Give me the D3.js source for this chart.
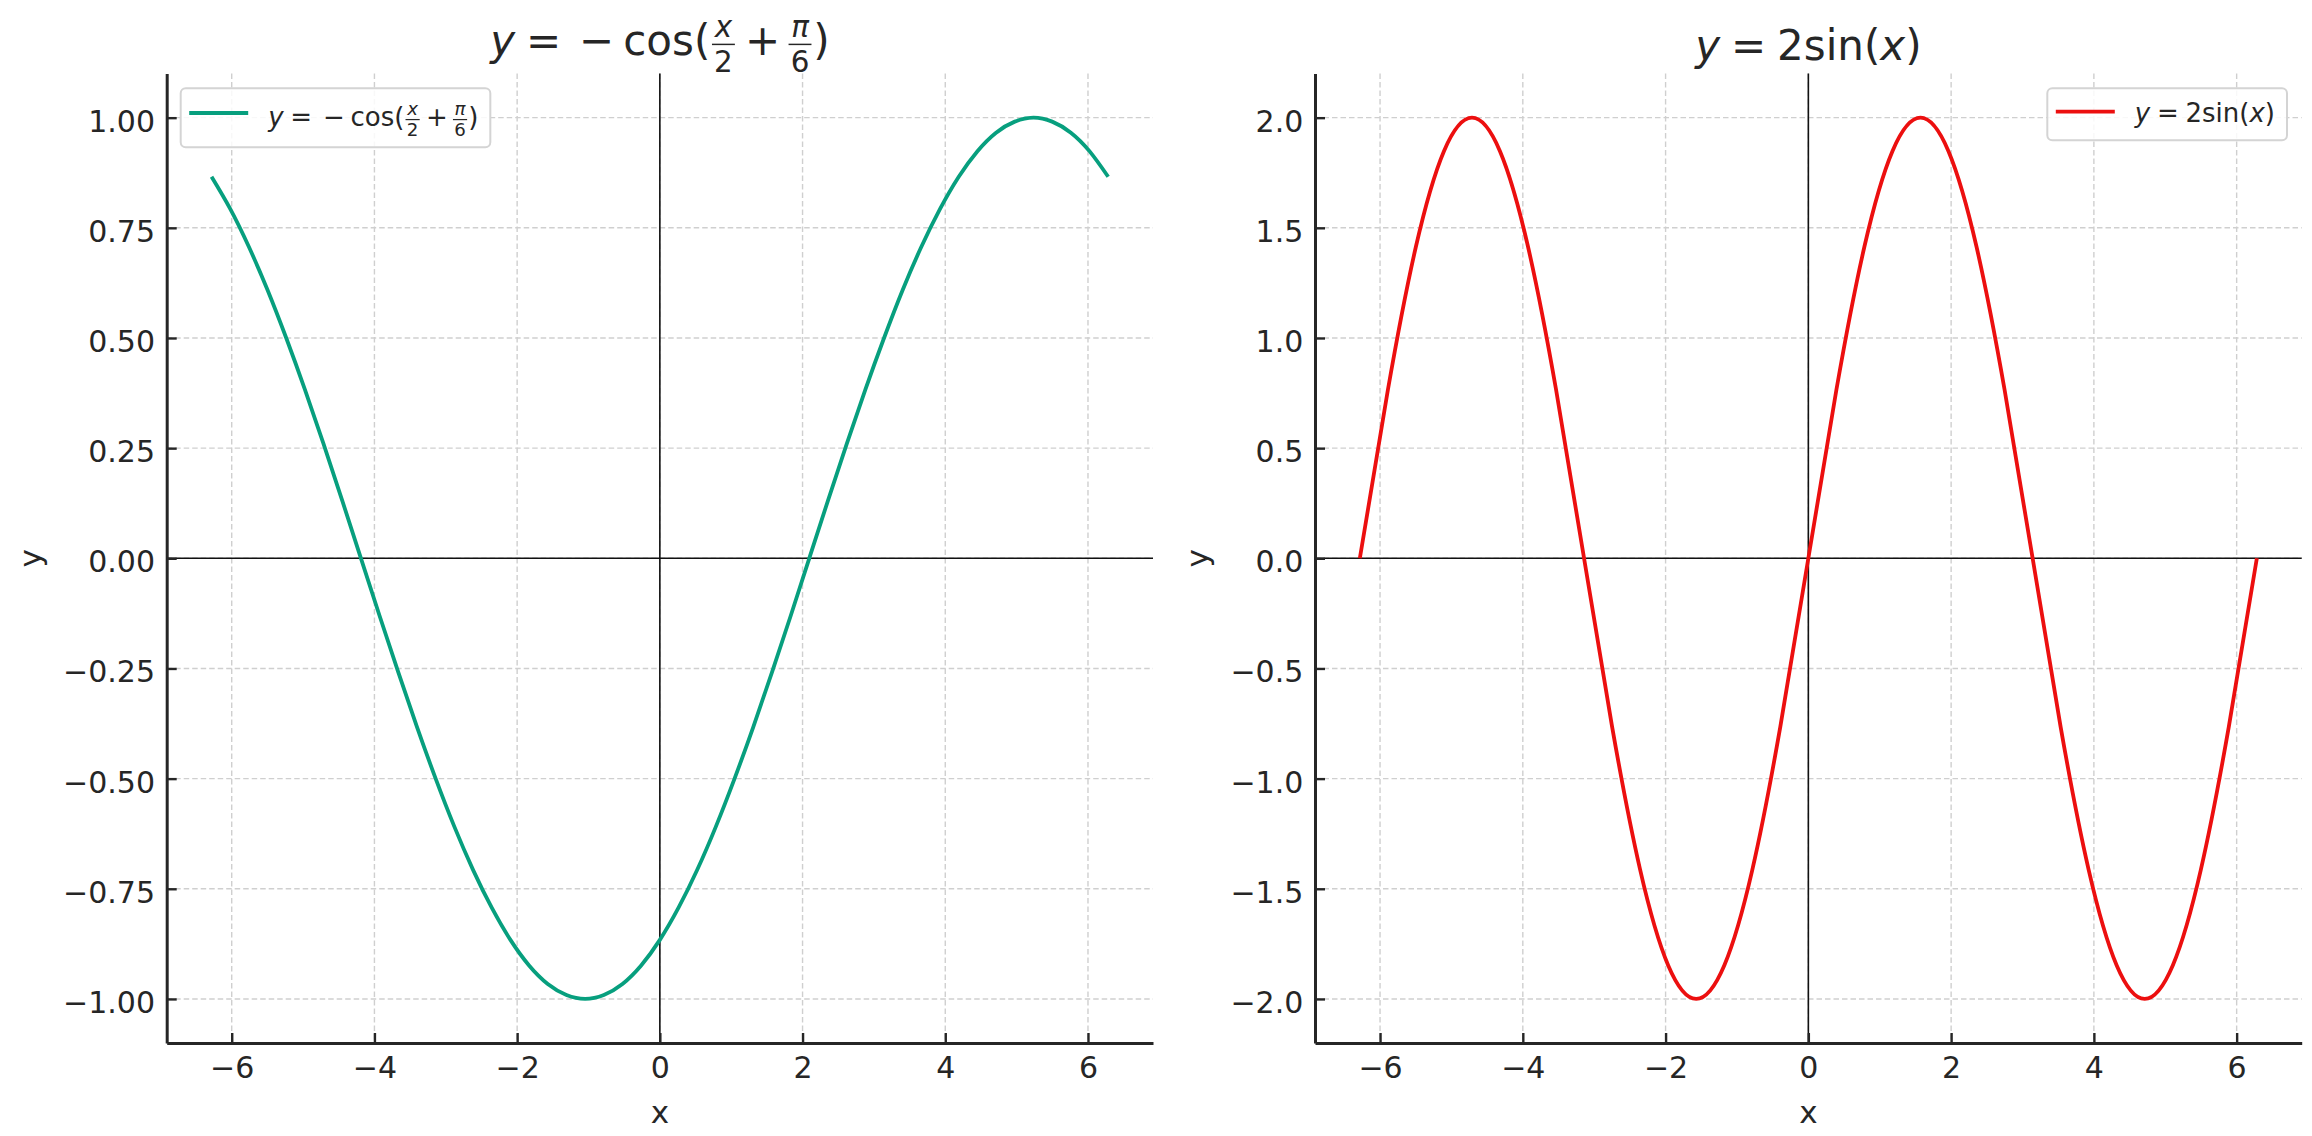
<!DOCTYPE html>
<html>
<head>
<meta charset="utf-8">
<script src="https://cdn.jsdelivr.net/npm/d3@7"></script>
<style>
  html, body { margin: 0; padding: 0; background: #fff; }
  svg { display: block; font-family: "DejaVu Sans", sans-serif; }
</style>
</head>
<body>
<svg id="chart" width="2312" height="1136"></svg>
<script>
// ---------------- DATA ----------------
const xTicks = [-6, -4, -2, 0, 2, 4, 6];

// left panel: y = -cos(x/2 + pi/6)
const leftX = [-6.283, -6.021, -5.760, -5.498, -5.236, -4.974, -4.712, -4.451, -4.189, -3.927, -3.665, -3.403,
               -3.142, -2.880, -2.618, -2.356, -2.094, -1.833, -1.571, -1.309, -1.047, -0.785, -0.524, -0.262,
               0.0, 0.262, 0.524, 0.785, 1.047, 1.309, 1.571, 1.833, 2.094, 2.356, 2.618, 2.880,
               3.142, 3.403, 3.665, 3.927, 4.189, 4.451, 4.712, 4.974, 5.236, 5.498, 5.760, 6.021, 6.283];
const leftY = [0.866, 0.793, 0.707, 0.609, 0.5, 0.383, 0.259, 0.131, 0.0, -0.131, -0.259, -0.383,
               -0.5, -0.609, -0.707, -0.793, -0.866, -0.924, -0.966, -0.991, -1.0, -0.991, -0.966, -0.924,
               -0.866, -0.793, -0.707, -0.609, -0.5, -0.383, -0.259, -0.131, 0.0, 0.131, 0.259, 0.383,
               0.5, 0.609, 0.707, 0.793, 0.866, 0.924, 0.966, 0.991, 1.0, 0.991, 0.966, 0.924, 0.866];
const leftYTicks = [-1.0, -0.75, -0.5, -0.25, 0.0, 0.25, 0.5, 0.75, 1.0];

// right panel: y = 2 sin(x)
const rightX = [-6.283, -5.890, -5.498, -5.105, -4.712, -4.320, -3.927, -3.534, -3.142, -2.749, -2.356,
                -1.963, -1.571, -1.178, -0.785, -0.393, 0.0, 0.393, 0.785, 1.178, 1.571, 1.963, 2.356,
                2.749, 3.142, 3.534, 3.927, 4.320, 4.712, 5.105, 5.498, 5.890, 6.283];
const rightY = [0.0, 0.765, 1.414, 1.848, 2.0, 1.848, 1.414, 0.765, 0.0, -0.765, -1.414,
                -1.848, -2.0, -1.848, -1.414, -0.765, 0.0, 0.765, 1.414, 1.848, 2.0, 1.848, 1.414,
                0.765, 0.0, -0.765, -1.414, -1.848, -2.0, -1.848, -1.414, -0.765, 0.0];
const rightYTicks = [-2.0, -1.5, -1.0, -0.5, 0.0, 0.5, 1.0, 1.5, 2.0];

// math text pieces
const leftLabel = [{s: "y", it: true}, {gap: 0.26}, {s: "="}, {gap: 0.42}, {s: "\u2212"}, {gap: 0.22},
  {s: "cos("}, {gap: 0.04}, {frac: [{s: "x", it: true}, {s: "2"}]}, {gap: 0.24}, {s: "+"}, {gap: 0.2},
  {frac: [{s: "\u03c0", it: true}, {s: "6"}]}, {gap: 0.04}, {s: ")"}];
const rightLabel = [{s: "y", it: true}, {gap: 0.26}, {s: "="}, {gap: 0.26}, {s: "2sin("}, {s: "x", it: true}, {s: ")"}];

// ---------------- DRAWING ----------------
const svg = d3.select("#chart");
const TXT = "#262626";

function drawMath(parent, tokens, x, y, size, anchor) {
  const g = parent.append("g").attr("fill", TXT);
  let cx = 0;
  tokens.forEach(tok => {
    if (tok.gap !== undefined) { cx += tok.gap * size; return; }
    if (tok.frac) {
      const fs = size * 0.7;
      const num = g.append("text").attr("font-size", fs).attr("font-style", tok.frac[0].it ? "italic" : "normal")
        .attr("text-anchor", "middle").text(tok.frac[0].s);
      const den = g.append("text").attr("font-size", fs).attr("font-style", tok.frac[1].it ? "italic" : "normal")
        .attr("text-anchor", "middle").text(tok.frac[1].s);
      const w = Math.max(num.node().getComputedTextLength(), den.node().getComputedTextLength()) + 0.1 * size;
      num.attr("x", cx + w / 2).attr("y", -0.43 * size);
      den.attr("x", cx + w / 2).attr("y", 0.40 * size);
      g.append("rect").attr("x", cx).attr("y", -0.27 * size).attr("width", w).attr("height", Math.max(1.2, 0.035 * size));
      cx += w;
      return;
    }
    const t = g.append("text").attr("x", cx).attr("y", 0).attr("font-size", size)
      .attr("font-style", tok.it ? "italic" : "normal").style("white-space", "pre").text(tok.s);
    cx += t.node().getComputedTextLength();
  });
  const x0 = anchor === "middle" ? x - cx / 2 : (anchor === "end" ? x - cx : x);
  g.attr("transform", `translate(${x0},${y})`);
  return cx;
}

const panels = [
  {xs: leftX, ys: leftY, yTicks: leftYTicks, fmt: d3.format(".2f"), color: "#079f7e", label: leftLabel,
   left: 166.7, right: 1153, titleY: 55, legend: "left", legendH: 59, legendBase: 126, legendLineY: 113},
  {xs: rightX, ys: rightY, yTicks: rightYTicks, fmt: d3.format(".1f"), color: "#ec0f0f", label: rightLabel,
   left: 1315, right: 2301.7, titleY: 60, legend: "right", legendH: 52, legendBase: 122, legendLineY: 111.7}
];
const yTop = 73.6, yBot = 1043;

panels.forEach(p => {
  const xe = d3.extent(p.xs), ye = d3.extent(p.ys);
  const xp = (xe[1] - xe[0]) * 0.05, yp = (ye[1] - ye[0]) * 0.05;
  const x = d3.scaleLinear().domain([xe[0] - xp, xe[1] + xp]).range([p.left, p.right]);
  const y = d3.scaleLinear().domain([ye[0] - yp, ye[1] + yp]).range([yBot, yTop]);

  const g = svg.append("g");

  // grid
  const grid = g.append("g").attr("stroke", "#cfcfcf").attr("stroke-width", 1.4).attr("stroke-dasharray", "5.5,3");
  grid.selectAll(".gx").data(xTicks).join("line").attr("class", "gx")
    .attr("x1", d => x(d)).attr("x2", d => x(d)).attr("y1", yTop).attr("y2", yBot);
  grid.selectAll(".gy").data(p.yTicks).join("line").attr("class", "gy")
    .attr("x1", p.left).attr("x2", p.right).attr("y1", d => y(d)).attr("y2", d => y(d));

  // zero lines
  g.append("line").attr("x1", p.left).attr("x2", p.right).attr("y1", y(0)).attr("y2", y(0))
    .attr("stroke", "#111").attr("stroke-width", 1.6);
  g.append("line").attr("x1", x(0)).attr("x2", x(0)).attr("y1", yTop).attr("y2", yBot)
    .attr("stroke", "#111").attr("stroke-width", 1.6);

  // curve
  const line = d3.line().x((d, i) => x(p.xs[i])).y(d => y(d)).curve(d3.curveNatural);
  g.append("path").attr("d", line(p.ys)).attr("fill", "none").attr("stroke", p.color)
    .attr("stroke-width", 3.8).attr("stroke-linejoin", "round").attr("stroke-linecap", "butt");

  // axes
  const ax = g.append("g").attr("transform", `translate(0,${yBot})`)
    .call(d3.axisBottom(x).tickValues(xTicks).tickFormat(d3.format("d")).tickSizeInner(-10).tickSizeOuter(0).tickPadding(13.7));
  const ay = g.append("g").attr("transform", `translate(${p.left},0)`)
    .call(d3.axisLeft(y).tickValues(p.yTicks).tickFormat(p.fmt).tickSizeInner(-10).tickSizeOuter(0).tickPadding(11.7));
  [ax, ay].forEach(a => {
    a.attr("font-family", null).attr("font-size", null);
    a.select(".domain").attr("stroke", TXT).attr("stroke-width", 3);
    a.selectAll(".tick line").attr("stroke", TXT).attr("stroke-width", 2.4);
    a.selectAll(".tick text").attr("fill", TXT).attr("font-size", 30);
  });
  ay.selectAll(".tick text").attr("dy", "0.45em");

  // axis labels
  g.append("text").attr("x", (p.left + p.right) / 2).attr("y", 1123).attr("text-anchor", "middle")
    .attr("font-size", 31).attr("fill", TXT).text("x");
  const bb = ay.node().getBBox();
  g.append("text").attr("transform", `translate(${p.left + bb.x - 22},${(yTop + yBot) / 2}) rotate(-90)`)
    .attr("text-anchor", "middle").attr("font-size", 31).attr("fill", TXT).text("y");

  // title
  drawMath(g, p.label, (p.left + p.right) / 2, p.titleY, 42, "middle");

  // legend
  const lg = g.append("g");
  const box = lg.append("rect").attr("rx", 5).attr("ry", 5).attr("fill", "#fff").attr("fill-opacity", 0.85)
    .attr("stroke", "#d4d4d4").attr("stroke-width", 2);
  const inner = lg.append("g");
  inner.append("line").attr("x1", 8.5).attr("x2", 67.5).attr("y1", p.legendLineY).attr("y2", p.legendLineY)
    .attr("stroke", p.color).attr("stroke-width", 3.8);
  const tw = drawMath(inner, p.label, 87.5, p.legendBase, 26, "start");
  const bw = 87.5 + tw + 12;
  const bx = p.legend === "left" ? p.left + 14 : p.right - 14.7 - bw;
  box.attr("x", bx).attr("y", 88.3).attr("width", bw).attr("height", p.legendH);
  inner.attr("transform", `translate(${bx},0)`);
});
</script>
</body>
</html>
